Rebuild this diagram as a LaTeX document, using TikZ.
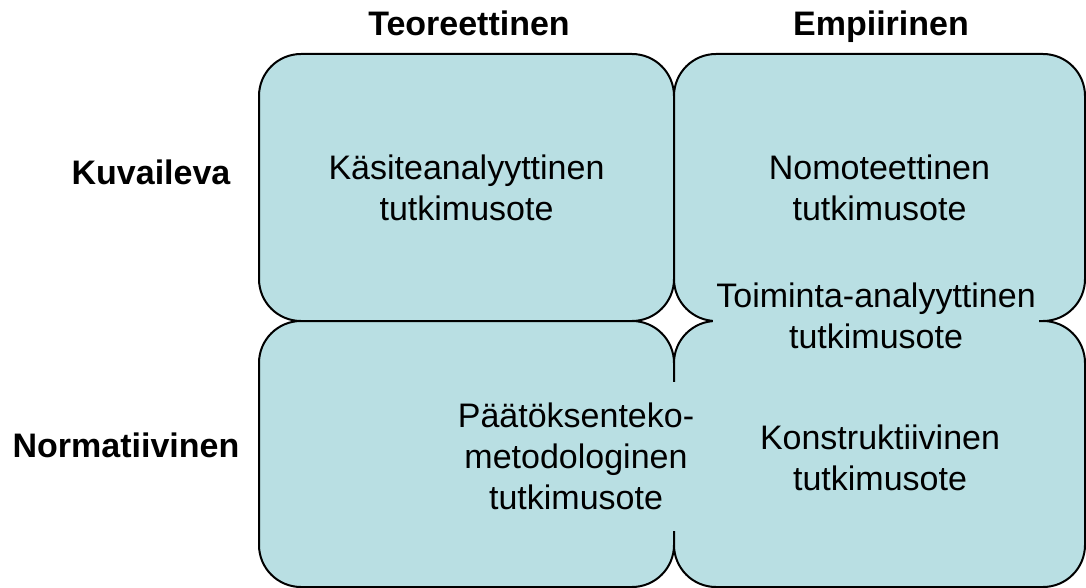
\documentclass[tikz,border=0pt]{standalone}
\usepackage{fontspec}
\setmainfont{Liberation Sans}
\definecolor{cellfill}{RGB}{185,223,227}
\begin{document}
\begin{tikzpicture}[x=1pt,y=-1pt,
  cell/.style={draw=black, line width=2pt, fill=cellfill, rounded corners=42pt, inner sep=0pt, rectangle},
  celltext/.style={align=center, font=\fontsize{34}{41}\selectfont, inner sep=0pt},
  head/.style={font=\fontsize{34}{41}\selectfont\bfseries, anchor=base, inner sep=0pt}]
\useasboundingbox (0,0) rectangle (1086,588);
% cells
\node[cell, minimum width=415pt, minimum height=267pt] (tl) at (466.5,187.5) {};
\node[cell, minimum width=411pt, minimum height=267pt] (tr) at (879.5,187.5) {};
\node[cell, minimum width=415pt, minimum height=266pt] (bl) at (466.5,454) {};
\node[cell, minimum width=411pt, minimum height=266pt] (br) at (879.5,454) {};
% headers
\node[head] (teo) at (469,36) {Teoreettinen};
\node[head] (emp) at (881,36) {Empiirinen};
\node[head] (kuv) at (151,185) {Kuvaileva};
\node[head] (norm) at (126,457) {Normatiivinen};
% cell texts
\node[celltext] (kasite) at (466.5,188) {Käsiteanalyyttinen\\tutkimusote};
\node[celltext] (nomo) at (879.5,188) {Nomoteettinen\\tutkimusote};
\node[celltext, fill=cellfill, inner xsep=3pt, inner ysep=2pt] (toim) at (876,316) {Toiminta-analyyttinen\\tutkimusote};
\node[celltext, fill=cellfill, inner xsep=20pt, inner ysep=21pt] (paat) at (576,456.5) {Päätöksenteko-\\metodologinen\\tutkimusote};
\node[celltext] (konst) at (880,458) {Konstruktiivinen\\tutkimusote};
\end{tikzpicture}
\end{document}
